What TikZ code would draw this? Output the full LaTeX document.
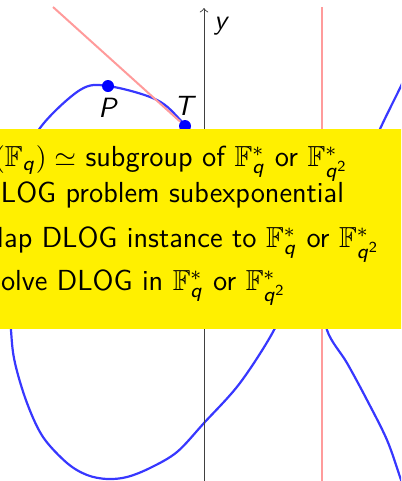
\documentclass[tikz,border=0pt]{standalone}
\usepackage{amssymb}
\DeclareMathAlphabet{\mathsfit}{OT1}{cmss}{m}{sl}
\definecolor{curveblue}{RGB}{55,55,255}
\definecolor{tanred}{RGB}{255,155,155}
\definecolor{boxyellow}{RGB}{255,240,0}
\newcommand{\Fq}{\mathbb{F}^*_{\mathsfit{q}}}
\newcommand{\Fqq}{\mathbb{F}^*_{\mathsfit{q}^{\mathsf{2}}}}
\begin{document}
\begin{tikzpicture}[x=0.393pt,y=-0.393pt,
  font=\sffamily\fontsize{11.4}{13.7}\selectfont,
  curve/.style={curveblue,line width=2.2*0.393pt},
  redline/.style={tanred,line width=2*0.393pt},
  axisline/.style={black!75,line width=0.9*0.393pt,->},
  dot/.style={circle,fill=blue,inner sep=0pt,minimum size=12*0.393pt},
  lbl/.style={inner sep=0pt,anchor=base},
  txt/.style={inner sep=0pt,anchor=base west}]
\useasboundingbox (0,0) rectangle (401,481);
\clip (0,0) rectangle (401,481);
% egg component
\draw[curve] plot[smooth cycle,tension=0.55] coordinates {
  (40,128) (80,90) (108,86) (157,100) (185,125)
  (230,175) (270,245) (283,300)
  (274,330) (240,383) (204,423) (177,452) (150,468) (127,477)
  (107,479) (87,475) (67,463) (43,437) (27,403) (15,363) (11,330)
  (8,260) (22,170)};
% right branch
\draw[curve] plot[smooth,tension=0.55] coordinates {
  (420,45) (401,86) (380,129) (342,212) (322,285)
  (327,330) (347,363) (367,400) (387,440) (400,477) (404,490)};
% axis
\coordinate (ybot) at (204,490);
\coordinate (ytop) at (204,8);
\draw[axisline] (ybot) -- (ytop);
\node[lbl] (ylab) at (222,29) {$\mathsfit{y}$};
% points
\node[dot] (P) at (108,86) {};
\node[dot] (T) at (185,126) {};
\node[lbl] (Plab) at (108.5,117) {$\mathsfit{P}$};
\node[lbl] (Tlab) at (185.5,115) {$\mathsfit{T}$};
% red lines
\coordinate (tantop) at (53,7);
\coordinate (tanend) at (240,172);
\draw[redline] (tantop) -- (T) -- (tanend);
\coordinate (vtop) at (322,7);
\coordinate (vbot) at (322,490);
\draw[redline] (vtop) -- (vbot);
% yellow box
\fill[boxyellow] (-5,129) rectangle (410,329);
\node[txt] (l1) at (-6.5,166.7) {$(\mathbb{F}_{\mathsfit{q}})\simeq$ subgroup of $\Fq$ or $\Fqq$};
\node[txt] (l2) at (-20,202.7) {DLOG problem subexponential};
\node[txt] (l3) at (-21,247.7) {Map DLOG instance to $\Fq$ or $\Fqq$};
\node[txt] (l4) at (0.5,290.7) {olve DLOG in $\Fq$ or $\Fqq$};
\end{tikzpicture}
\end{document}
